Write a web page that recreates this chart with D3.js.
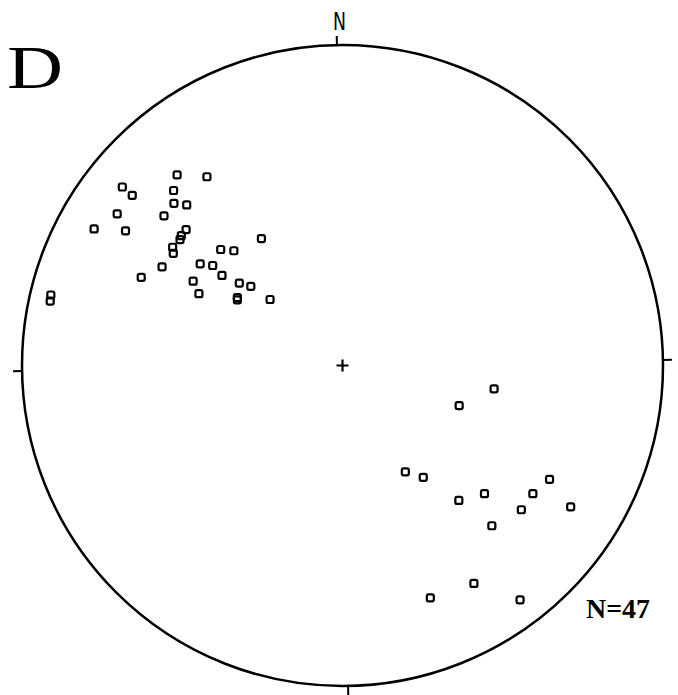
<!DOCTYPE html>
<html>
<head>
<meta charset="utf-8">
<script src="https://cdn.jsdelivr.net/npm/d3@7"></script>
<style>
  body { margin: 0; background: #fff; }
</style>
</head>
<body>
<div id="my_dataviz"></div>
<script>
// point positions on the net, east / north, unit circle
var east = [-0.516, -0.423, -0.687, -0.656, -0.527, -0.526, -0.486, -0.703, -0.557, -0.775,
            -0.677, -0.488, -0.503, -0.507, -0.530, -0.528, -0.253, -0.380, -0.339, -0.444,
            -0.405, -0.563, -0.376, -0.628, -0.466, -0.322, -0.286, -0.448, -0.328, -0.328,
            -0.226, -0.910, -0.912,
             0.473,  0.364,  0.196,  0.252,  0.646,  0.443,  0.594,  0.363,  0.712,  0.558,
             0.466,  0.410,  0.274,  0.554];
var north = [ 0.595,  0.589,  0.557,  0.531,  0.546,  0.506,  0.501,  0.473,  0.467,  0.426,
              0.420,  0.424,  0.405,  0.393,  0.369,  0.350,  0.396,  0.362,  0.358,  0.317,
              0.312,  0.308,  0.281,  0.275,  0.263,  0.257,  0.247,  0.224,  0.212,  0.205,
              0.206,  0.220,  0.201,
             -0.073, -0.125, -0.332, -0.349, -0.355, -0.400, -0.400, -0.421, -0.441, -0.450,
             -0.500, -0.680, -0.725, -0.731];
var directions = ["N", "E", "S", "W"];
var label = "D";
var countLabel = "N=47";

var width = 678, height = 695;
var cx = 342.5, cy = 365.5, R = 320.5;

var svg = d3.select("#my_dataviz")
    .append("svg")
    .attr("width", width)
    .attr("height", height);

var x = d3.scaleLinear().domain([-1, 1]).range([cx - R, cx + R]);
var y = d3.scaleLinear().domain([-1, 1]).range([cy + R, cy - R]);

// primitive circle
svg.append("circle")
    .attr("cx", cx)
    .attr("cy", cy)
    .attr("r", R)
    .attr("fill", "none")
    .attr("stroke", "#000")
    .attr("stroke-width", 2.5);

// direction ticks, the scan is turned a little
var ticks = svg.append("g")
    .attr("transform", "rotate(-1," + cx + "," + cy + ")");

ticks.selectAll("line")
    .data(directions)
    .enter()
    .append("line")
    .attr("x1", cx).attr("y1", cy - R)
    .attr("x2", cx).attr("y2", cy - R - 9)
    .attr("stroke", "#000")
    .attr("stroke-width", 2)
    .attr("transform", function (d, i) {
        return "rotate(" + (i * 90) + "," + cx + "," + cy + ")";
    });

// centre cross
svg.append("path")
    .attr("d", "M" + (cx - 6) + "," + cy + "H" + (cx + 6) + "M" + cx + "," + (cy - 6) + "V" + (cy + 6))
    .attr("stroke", "#000")
    .attr("stroke-width", 2.2);

// N label
svg.append("text")
    .attr("x", 339.5)
    .attr("y", 30)
    .attr("text-anchor", "middle")
    .attr("font-family", "DejaVu Sans")
    .attr("font-size", 24)
    .attr("textLength", 13)
    .attr("lengthAdjust", "spacingAndGlyphs")
    .text(directions[0]);

// panel letter
svg.append("text")
    .attr("x", 7)
    .attr("y", 88)
    .attr("font-family", "Liberation Serif")
    .attr("font-size", 62)
    .attr("textLength", 56)
    .attr("lengthAdjust", "spacingAndGlyphs")
    .text(label);

// count
svg.append("text")
    .attr("x", 586)
    .attr("y", 618)
    .attr("font-family", "Liberation Serif")
    .attr("font-weight", "bold")
    .attr("font-size", 28)
    .attr("textLength", 64)
    .attr("lengthAdjust", "spacingAndGlyphs")
    .text(countLabel);

// the poles
var s = 7;
svg.selectAll(".pole")
    .data(east)
    .enter()
    .append("rect")
    .attr("class", "pole")
    .attr("x", function (d) { return x(d) - s / 2; })
    .attr("y", function (d, i) { return y(north[i]) - s / 2; })
    .attr("width", s)
    .attr("height", s)
    .attr("rx", 1.8)
    .attr("fill", "none")
    .attr("stroke", "#000")
    .attr("stroke-width", 2.2);
</script>
</body>
</html>
